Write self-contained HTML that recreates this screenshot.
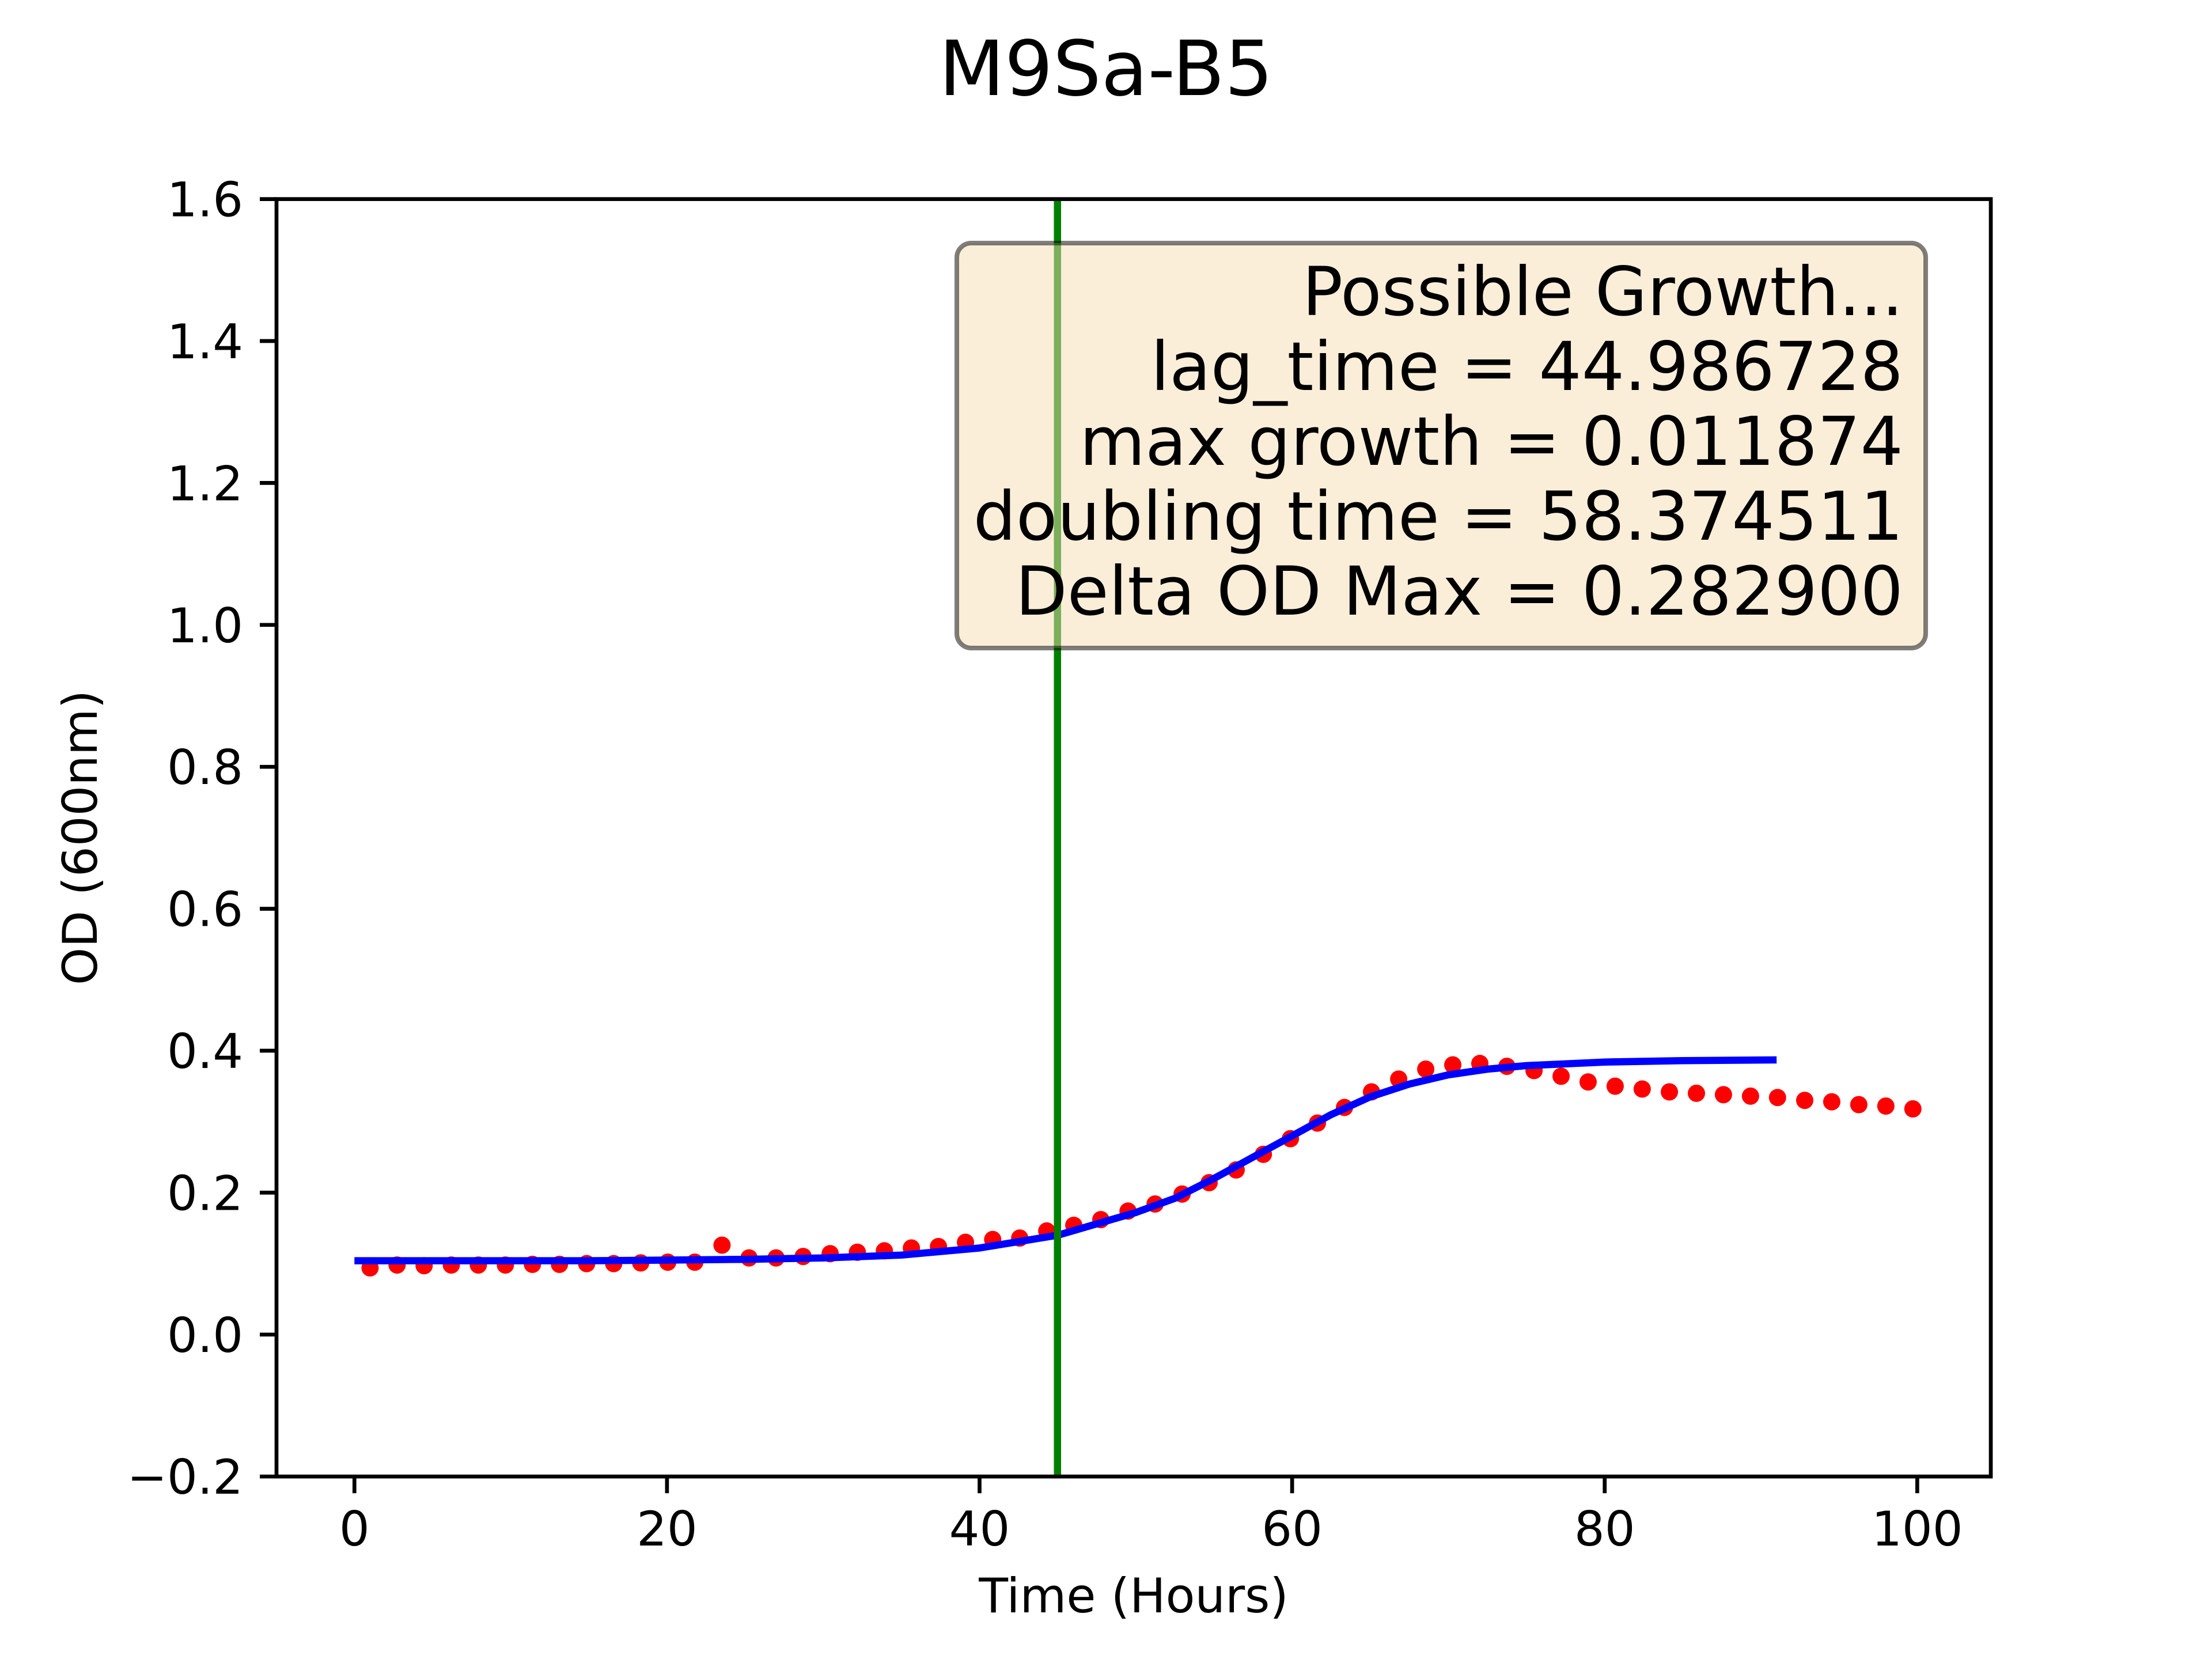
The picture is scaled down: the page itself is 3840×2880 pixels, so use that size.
<!DOCTYPE html>
<html><head><meta charset="utf-8"><style>
html,body{margin:0;padding:0;background:#fff;}
svg{display:block;font-family:"DejaVu Sans","Liberation Sans",sans-serif;}
</style></head><body>
<svg id="chart" width="3840" height="2880" viewBox="0 0 3840 2880">
<rect width="3840" height="2880" fill="#fff"/>
<text x="1920" y="165" text-anchor="middle" font-size="132">M9Sa-B5</text>
<g id="plot"></g>
<text x="1968" y="2799" text-anchor="middle" font-size="83">Time (Hours)</text>
<text transform="translate(168,1454) rotate(-90)" text-anchor="middle" font-size="83">OD (600nm)</text>
</svg>
<script>
const times = [1.0,2.73,4.46,6.2,7.93,9.66,11.39,13.12,14.86,16.59,18.32,20.05,21.78,23.52,25.25,26.98,28.71,30.44,32.18,33.91,35.64,37.37,39.1,40.84,42.57,44.3,46.03,47.76,49.5,51.23,52.96,54.69,56.42,58.16,59.89,61.62,63.35,65.08,66.82,68.55,70.28,72.01,73.74,75.48,77.21,78.94,80.67,82.4,84.14,85.87,87.6,89.33,91.06,92.8,94.53,96.26,97.99,99.72];
const odValues = [0.094,0.098,0.097,0.098,0.098,0.098,0.099,0.099,0.1,0.1,0.101,0.102,0.102,0.126,0.108,0.108,0.11,0.114,0.116,0.118,0.122,0.124,0.13,0.134,0.136,0.146,0.154,0.162,0.174,0.184,0.198,0.214,0.232,0.254,0.276,0.298,0.32,0.342,0.36,0.374,0.38,0.382,0.378,0.372,0.364,0.356,0.35,0.346,0.342,0.34,0.338,0.336,0.334,0.33,0.328,0.324,0.322,0.318];
const fitTimes = [0,5,10,15,20,25,30,35,40,45,50,52.5,55,57.5,60,62.5,65,67.5,70,72.5,75,80,85,91];
const fitValues = [0.104,0.104,0.104,0.104,0.105,0.106,0.108,0.112,0.122,0.14,0.172,0.192,0.22,0.25,0.28,0.31,0.335,0.353,0.366,0.374,0.379,0.384,0.386,0.387];
const lagTime = 44.986728;
const xTicks = [0,20,40,60,80,100];
const yTicks = [-0.2,0.0,0.2,0.4,0.6,0.8,1.0,1.2,1.4,1.6];
const yTickLabels = ["\u22120.2","0.0","0.2","0.4","0.6","0.8","1.0","1.2","1.4","1.6"];
const boxLines = ["Possible Growth...","lag_time = 44.986728","max growth = 0.011874","doubling time = 58.374511","Delta OD Max = 0.282900"];

const NS="http://www.w3.org/2000/svg";
const L=480,R=3456,T=345.6,B=2563.2;
const xMin=-4.986,xMax=104.706,yMin=-0.2,yMax=1.6;
const sx=v=>L+(v-xMin)/(xMax-xMin)*(R-L);
const sy=v=>B-(v-yMin)/(yMax-yMin)*(B-T);
const plot=document.getElementById('plot');
function mk(tag,attrs){const e=document.createElementNS(NS,tag);for(const k in attrs)e.setAttribute(k,attrs[k]);plot.appendChild(e);return e;}

odValues.forEach((v,i)=>{
  const c=mk('circle',{cx:sx(times[i]),cy:sy(v),r:15,fill:'#ff0000'});
  
  
});
const fit=mk('polyline',{points:fitTimes.map((t,i)=>sx(t)+','+sy(fitValues[i])).join(' '),fill:'none',stroke:'#0000ff','stroke-width':12.5,'stroke-linejoin':'round'});


const lag=mk('line',{x1:sx(lagTime),x2:sx(lagTime),y1:T,y2:B,stroke:'#008000','stroke-width':12.5});


const frame=mk('rect',{x:L,y:T,width:R-L,height:B-T,fill:'none',stroke:'#000','stroke-width':6.7});


xTicks.forEach(t=>{
  const x=sx(t);
  const tk=mk('line',{x1:x,x2:x,y1:B,y2:B+29,stroke:'#000','stroke-width':6.7});
  
  
  const lb=mk('text',{x:x,y:B+29+29+62,'text-anchor':'middle','font-size':83});
  lb.textContent=t;
  
  
});
yTicks.forEach((t,i)=>{
  const y=sy(t);
  const tk=mk('line',{x1:L-29,x2:L,y1:y,y2:y,stroke:'#000','stroke-width':6.7});
  
  
  const lb=mk('text',{x:L-29-29,y:y+30,'text-anchor':'end','font-size':83});
  lb.textContent=yTickLabels[i];
  
  
});
const box=mk('rect',{x:1661,y:422,width:1682,height:703,rx:25,ry:25,fill:'#f5deb3','fill-opacity':0.5,stroke:'#000','stroke-opacity':0.5,'stroke-width':8});


boxLines.forEach((s,i)=>{
  const t=mk('text',{x:3304,y:547+i*130,'text-anchor':'end','font-size':117});
  t.textContent=s;
  
  
});
</script>
</body></html>
